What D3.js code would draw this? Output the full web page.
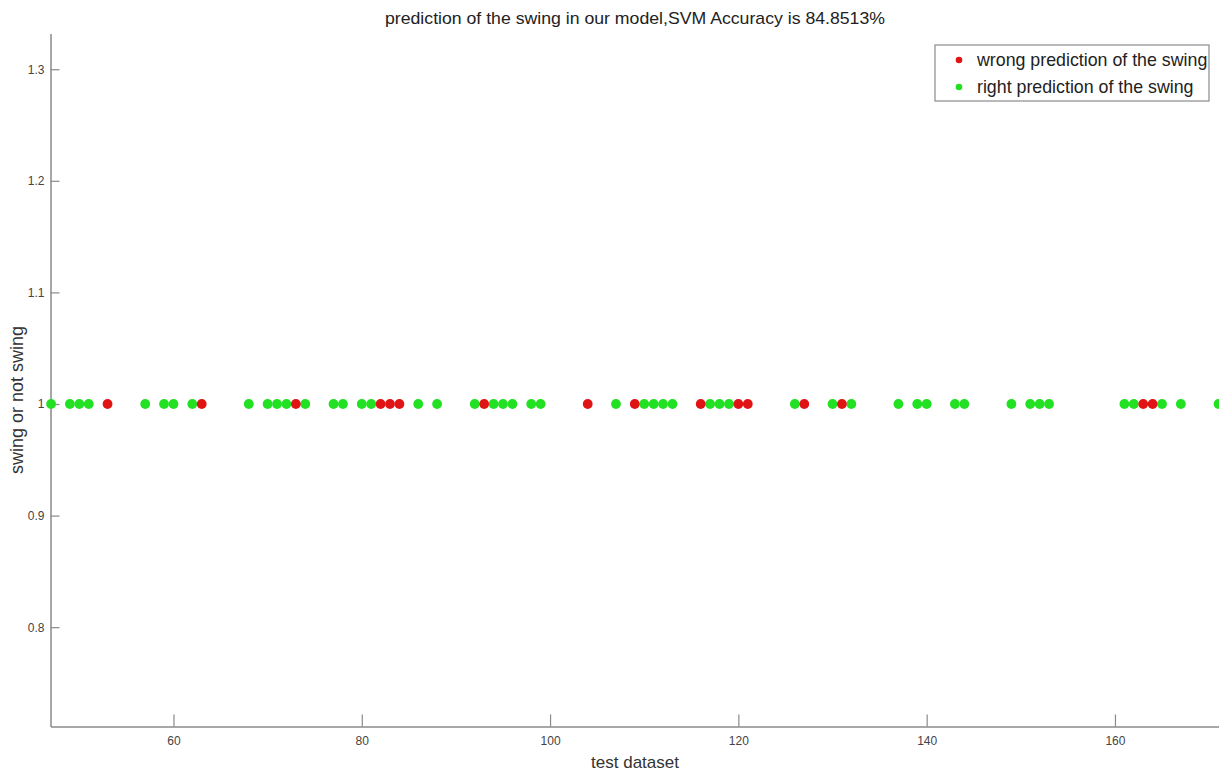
<!DOCTYPE html>
<html>
<head>
<meta charset="utf-8">
<script src="https://d3js.org/d3.v7.min.js"></script>
<style>
  body { margin: 0; background: #fff; }
  text { font-family: "Liberation Sans", Arial, sans-serif; }
</style>
</head>
<body>
<div id="chart"></div>
<script>
// test samples where the prediction was right / wrong (all at y = 1)
var rightIdx = [47, 49, 50, 51, 57, 59, 60, 62, 68, 70, 71, 72, 74, 77, 78, 80, 81,
    86, 88, 92, 94, 95, 96, 98, 99, 107, 110, 111, 112, 113, 117, 118, 119,
    126, 130, 132, 137, 139, 140, 143, 144, 149, 151, 152, 153, 161, 162, 165, 167, 171];
var wrongIdx = [53, 63, 73, 82, 83, 84, 93, 104, 109, 116, 120, 121, 127, 131, 163, 164];

var xTicks = [60, 80, 100, 120, 140, 160];
var yTicks = [0.8, 0.9, 1, 1.1, 1.2, 1.3];
var legendLabels = ["wrong prediction of the swing", "right prediction of the swing"];

var width = 1219, height = 773;
var red = "#e01414", green = "#22e022";

var svg = d3.select("#chart").append("svg")
    .attr("width", width)
    .attr("height", height);

// axes box (MATLAB style, right side cropped off)
var x = d3.scaleLinear().domain([46.94, 171.05]).range([50.5, 1219]);
var y = d3.scaleLinear().domain([0.711, 1.332]).range([726.5, 33.5]);

var xAxis = svg.append("g")
    .attr("transform", "translate(0," + y.range()[0] + ")")
    .call(d3.axisBottom(x).tickValues(xTicks).tickSizeInner(-12).tickSizeOuter(0).tickPadding(10).tickFormat(d3.format("d")));

var yAxis = svg.append("g")
    .attr("transform", "translate(" + x.range()[0] + ",0)")
    .call(d3.axisLeft(y).tickValues(yTicks).tickSizeInner(-9).tickSizeOuter(0).tickPadding(6).tickFormat(function(d) { return d === 1 ? "1" : d3.format(".1f")(d); }));

[xAxis, yAxis].forEach(function(g) {
    g.select(".domain").attr("stroke", "#8a8a8a").attr("stroke-width", 1.5);
    g.selectAll(".tick line").attr("stroke", "#8a8a8a").attr("stroke-width", 1.2);
    g.selectAll(".tick text").attr("fill", "#444").attr("font-size", 12);
});

// points
svg.append("g").selectAll("circle.right")
    .data(rightIdx)
    .enter().append("circle")
    .attr("class", "right")
    .attr("cx", function(d) { return x(d); })
    .attr("cy", y(1))
    .attr("r", 4.9)
    .attr("fill", green);

svg.append("g").selectAll("circle.wrong")
    .data(wrongIdx)
    .enter().append("circle")
    .attr("class", "wrong")
    .attr("cx", function(d) { return x(d); })
    .attr("cy", y(1))
    .attr("r", 4.9)
    .attr("fill", red);

// title and labels
svg.append("text")
    .attr("x", 635).attr("y", 24)
    .attr("text-anchor", "middle")
    .attr("font-size", 17)
    .attr("textLength", 500)
    .attr("lengthAdjust", "spacingAndGlyphs")
    .attr("fill", "#222")
    .text("prediction of the swing in our model,SVM Accuracy is 84.8513%");

svg.append("text")
    .attr("x", 635).attr("y", 768)
    .attr("text-anchor", "middle")
    .attr("font-size", 17)
    .attr("fill", "#333")
    .text("test dataset");

svg.append("text")
    .attr("transform", "translate(23,400) rotate(-90)")
    .attr("text-anchor", "middle")
    .attr("font-size", 18)
    .attr("fill", "#333")
    .text("swing or not swing");

// legend
var legend = svg.append("g").attr("transform", "translate(935,45)");
legend.append("rect")
    .attr("width", 274).attr("height", 56)
    .attr("fill", "#fff")
    .attr("stroke", "#8a8a8a")
    .attr("stroke-width", 1.2);

legend.selectAll("g.item")
    .data(legendLabels)
    .enter().append("g")
    .attr("class", "item")
    .attr("transform", function(d, i) { return "translate(0," + (15 + i * 27) + ")"; })
    .each(function(d, i) {
        var g = d3.select(this);
        g.append("circle").attr("cx", 24).attr("cy", 0).attr("r", 3.3).attr("fill", i === 0 ? red : green);
        g.append("text").attr("x", 42).attr("y", 6).attr("font-size", 17.8).attr("fill", "#222").text(d);
    });
</script>
</body>
</html>
